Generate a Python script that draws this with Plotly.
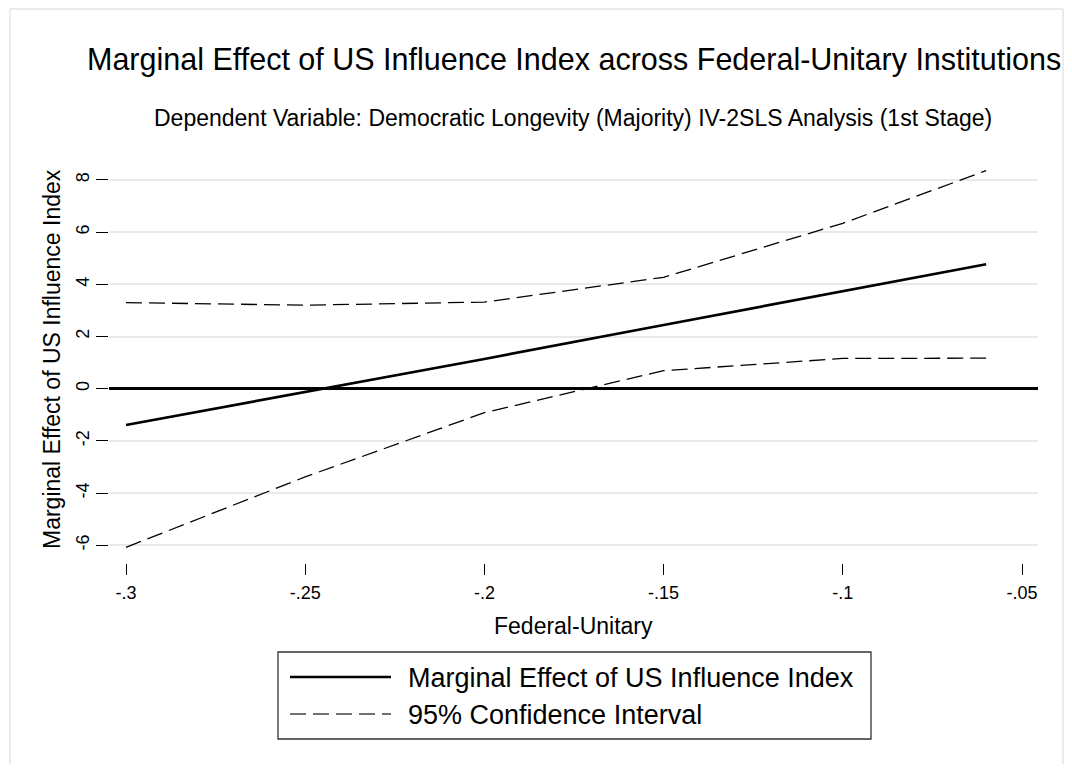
import plotly.graph_objects as go

# ---- data ----
x_vals = [-0.30, -0.25, -0.20, -0.15, -0.10, -0.06]
marginal_effect = [-1.39, -0.13, 1.14, 2.44, 3.74, 4.77]
ci_upper = [3.30, 3.20, 3.32, 4.27, 6.34, 8.36]
ci_lower = [-6.08, -3.38, -0.92, 0.69, 1.16, 1.17]

x_ticks = [-0.30, -0.25, -0.20, -0.15, -0.10, -0.05]
x_tick_labels = ["-.3", "-.25", "-.2", "-.15", "-.1", "-.05"]
y_ticks = [-6, -4, -2, 0, 2, 4, 6, 8]
y_tick_labels = ["-6", "-4", "-2", "0", "2", "4", "6", "8"]

title_text = "Marginal Effect of US Influence Index across Federal-Unitary Institutions"
subtitle_text = "Dependent Variable: Democratic Longevity (Majority) IV-2SLS Analysis (1st Stage)"
x_title = "Federal-Unitary"
y_title = "Marginal Effect of US Influence Index"
legend_labels = ["Marginal Effect of US Influence Index", "95% Confidence Interval"]

# ---- layout geometry ----
# page pixel positions of the reference; the html body adds an 8px margin,
# so the figure itself is 16px smaller than the window and offset by 8px.
OFF = 8
W, H = 1072 - 2 * OFF, 772 - 2 * OFF
PL, PR, PT, PB = 109, 1038, 154, 563   # plot area edges (page pixels)
FONT = "Liberation Sans, Arial, Helvetica, sans-serif"


def px2x(px):
    return (px - PL) / (PR - PL)


def px2y(py):
    return (PB - py) / (PB - PT)


fig = go.Figure()
fig.add_trace(go.Scatter(x=x_vals, y=ci_upper, mode="lines",
                         line=dict(color="black", width=1.3, dash="16px,7px"),
                         showlegend=False, name=legend_labels[1]))
fig.add_trace(go.Scatter(x=x_vals, y=ci_lower, mode="lines",
                         line=dict(color="black", width=1.3, dash="16px,7px"),
                         showlegend=False, name=legend_labels[1]))
fig.add_trace(go.Scatter(x=x_vals, y=marginal_effect, mode="lines",
                         line=dict(color="black", width=2.7),
                         showlegend=False, name=legend_labels[0]))

shapes = []
# outer graph-region border (light grey)
border = dict(type="line", xref="paper", yref="paper",
              line=dict(color="#ebebeb", width=2))
top_b, left_b, right_b, bot_b = 9, 10, 1063, 790
shapes.append({**border, "x0": px2x(left_b), "x1": px2x(left_b), "y0": px2y(top_b), "y1": px2y(bot_b)})
shapes.append({**border, "x0": px2x(left_b), "x1": px2x(right_b), "y0": px2y(top_b), "y1": px2y(top_b)})
shapes.append({**border, "x0": px2x(right_b), "x1": px2x(right_b), "y0": px2y(top_b), "y1": px2y(bot_b)})

# legend box
shapes.append(dict(type="rect", xref="paper", yref="paper",
                   x0=px2x(278), x1=px2x(871), y0=px2y(652), y1=px2y(739),
                   line=dict(color="#333333", width=1.3), fillcolor="white"))
shapes.append(dict(type="line", xref="paper", yref="paper",
                   x0=px2x(290), x1=px2x(391), y0=px2y(677), y1=px2y(677),
                   line=dict(color="black", width=2.7)))
shapes.append(dict(type="line", xref="paper", yref="paper",
                   x0=px2x(290), x1=px2x(391), y0=px2y(714), y1=px2y(714),
                   line=dict(color="#444444", width=1.3, dash="16px,7px")))

annotations = [
    dict(text=title_text, x=px2x(574), y=px2y(59), xref="paper", yref="paper",
         xanchor="center", yanchor="middle", showarrow=False,
         font=dict(family=FONT, size=30.5, color="black")),
    dict(text=subtitle_text, x=px2x(573), y=px2y(118), xref="paper", yref="paper",
         xanchor="center", yanchor="middle", showarrow=False,
         font=dict(family=FONT, size=23, color="black")),
    dict(text=x_title, x=px2x(573), y=px2y(626), xref="paper", yref="paper",
         xanchor="center", yanchor="middle", showarrow=False,
         font=dict(family=FONT, size=23, color="black")),
    dict(text=y_title, x=px2x(52), y=px2y(359), xref="paper", yref="paper",
         xanchor="center", yanchor="middle", showarrow=False, textangle=-90,
         font=dict(family=FONT, size=23, color="black")),
    dict(text=legend_labels[0], x=px2x(406), y=px2y(678), xref="paper", yref="paper",
         xanchor="left", yanchor="middle", showarrow=False,
         font=dict(family=FONT, size=27, color="black")),
    dict(text=legend_labels[1], x=px2x(406), y=px2y(715), xref="paper", yref="paper",
         xanchor="left", yanchor="middle", showarrow=False,
         font=dict(family=FONT, size=27, color="black")),
]

x_left = -0.30 - (126 - PL) / 3584
x_right = -0.05 + (PR - 1022) / 3584
y_per_px = 1 / 26.09
y_top = (388.7 - PT) * y_per_px
y_bot = -(PB - 388.7) * y_per_px

fig.update_layout(
    width=W, height=H,
    margin=dict(l=PL - OFF, r=W - (PR - OFF), t=PT - OFF, b=H - (PB - OFF), pad=0),
    paper_bgcolor="white", plot_bgcolor="white",
    font=dict(family=FONT, size=18, color="black"),
    shapes=shapes, annotations=annotations,
    showlegend=False,
    xaxis=dict(range=[x_left, x_right], tickvals=x_ticks, ticktext=x_tick_labels,
               showgrid=False, zeroline=False, showline=False,
               ticks="outside", ticklen=11, tickwidth=1.2, tickcolor="black",
               ticklabelstandoff=2,
               tickfont=dict(family=FONT, size=18, color="black")),
    yaxis=dict(range=[y_bot, y_top], tickvals=y_ticks, ticktext=y_tick_labels,
               showgrid=True, gridcolor="#e9e9e9", gridwidth=2,
               zeroline=True, zerolinecolor="black", zerolinewidth=2.7,
               showline=False, tickangle=-90,
               ticks="outside", ticklen=12, tickwidth=1.2, tickcolor="black",
               ticklabelstandoff=0,
               tickfont=dict(family=FONT, size=18, color="black")),
)

fig.write_html("out.html")
